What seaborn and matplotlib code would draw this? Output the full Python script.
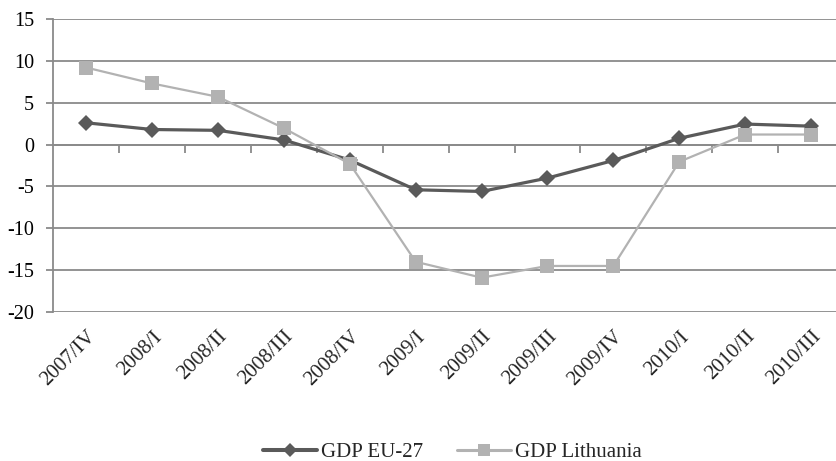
import numpy as np
import pandas as pd
import seaborn as sns
import matplotlib
matplotlib.use("Agg")
import matplotlib.pyplot as plt
from matplotlib.lines import Line2D

quarters = ["2007/IV", "2008/I", "2008/II", "2008/III", "2008/IV", "2009/I",
            "2009/II", "2009/III", "2009/IV", "2010/I", "2010/II", "2010/III"]
gdp_eu27 = [2.6, 1.8, 1.7, 0.55, -1.85, -5.4, -5.6, -4.0, -1.9, 0.75, 2.45, 2.2]
gdp_lithuania = [9.2, 7.3, 5.7, 1.95, -2.3, -14.0, -15.9, -14.5, -14.5, -2.05, 1.2, 1.2]
y_ticks = [-20, -15, -10, -5, 0, 5, 10, 15]

series_names = ["GDP EU-27", "GDP Lithuania"]
colors = {"GDP EU-27": "#5a5a5a", "GDP Lithuania": "#b2b2b2"}
markers = {"GDP EU-27": "D", "GDP Lithuania": "s"}
sizes = {"GDP EU-27": 8.5, "GDP Lithuania": 10}
widths = {"GDP EU-27": 2.3, "GDP Lithuania": 1.6}

df = pd.DataFrame({
    "quarter": quarters * 2,
    "pos": list(range(len(quarters))) * 2,
    "value": gdp_eu27 + gdp_lithuania,
    "series": [series_names[0]] * len(quarters) + [series_names[1]] * len(quarters),
})

sns.set_theme(style="white")
plt.rcParams["font.family"] = ["Liberation Serif", "DejaVu Serif"]

fig = plt.figure(figsize=(8.36, 4.61), dpi=100)
ax = fig.add_axes([53.3 / 836, 1 - 312 / 461, (844 - 53.3) / 836, (312 - 19) / 461])

grid_c = "#8a8a8a"
for name in series_names:
    sub = df[df["series"] == name]
    sns.lineplot(data=sub, x="pos", y="value", ax=ax, color=colors[name],
                 linewidth=widths[name], marker=markers[name],
                 markersize=sizes[name], markeredgewidth=0,
                 markerfacecolor=colors[name], legend=False, zorder=3)

ax.set_xlim(-0.5, len(quarters) - 0.5)
ax.set_ylim(-20, 15)
ax.set_yticks(y_ticks)
ax.set_yticklabels([str(v) for v in y_ticks], fontsize=14.5)
ax.yaxis.grid(True, color=grid_c, linewidth=1.3)
ax.set_axisbelow(True)
ax.set_xlabel("")
ax.set_ylabel("")

for s in ["top", "right"]:
    ax.spines[s].set_visible(False)
ax.spines["left"].set_color(grid_c)
ax.spines["left"].set_linewidth(1.3)
ax.tick_params(axis="y", which="major", left=True, length=5, width=1.3,
               color=grid_c, pad=9, labelcolor="black")

# category axis drawn at zero, with ticks between categories
ax.spines["bottom"].set_position(("data", 0))
ax.spines["bottom"].set_color(grid_c)
ax.spines["bottom"].set_linewidth(1.3)
ax.set_xticks(np.arange(len(quarters) - 1) + 0.5)
ax.tick_params(axis="x", which="major", bottom=True, length=6, width=1.3,
               color=grid_c, labelbottom=False, direction="out")

# category labels below the plot area
sec = ax.secondary_xaxis(0)
sec.set_xticks(range(len(quarters)))
sec.set_xticklabels(quarters, rotation=45, ha="right", rotation_mode="anchor",
                    fontsize=15)
sec.tick_params(length=0, pad=11)
sec.spines["bottom"].set_visible(False)

handles = [Line2D([], [], color=colors[n], linewidth=widths[n] + 0.6,
                  marker=markers[n], markersize=sizes[n] * 0.8,
                  markeredgewidth=0) for n in series_names]
fig.legend(handles, series_names, loc="center", bbox_to_anchor=(452.5 / 836, 1 - 452 / 461),
           ncol=2, frameon=False, fontsize=15, handlelength=2.6,
           columnspacing=1.6, handletextpad=0.2, borderpad=0)

fig.savefig("out.png", dpi=100)
